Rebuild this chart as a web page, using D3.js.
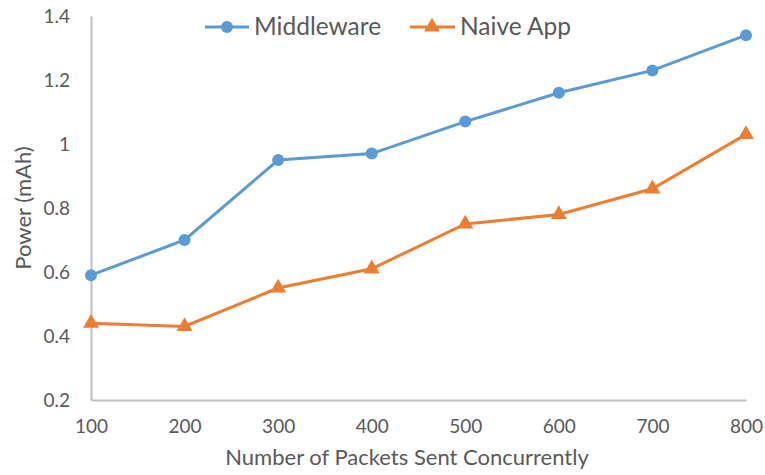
<!DOCTYPE html>
<html><head><meta charset="utf-8">
<script src="https://cdn.jsdelivr.net/npm/d3@7"></script>
<style>body{margin:0;background:#fff}svg{display:block}text{font-family:Lato,"Open Sans",sans-serif;fill:#595959}</style>
</head><body><svg id="c" width="765" height="475"></svg>
<script>
const categories = [100, 200, 300, 400, 500, 600, 700, 800];
const middleware = [0.59, 0.70, 0.95, 0.97, 1.07, 1.16, 1.23, 1.34];
const naiveApp = [0.44, 0.43, 0.55, 0.61, 0.75, 0.78, 0.86, 1.03];
const yTicks = [0.2, 0.4, 0.6, 0.8, 1, 1.2, 1.4];
const seriesNames = ["Middleware", "Naive App"];

const svg = d3.select("#c");
const x = d3.scaleLinear().domain([100, 800]).range([91, 746]);
const y = d3.scaleLinear().domain([0.2, 1.4]).range([400, 16]);
const blue = "#5B9BD5", orange = "#ED7D31", axisC = "#BFBFBF";

// axes
const ya = svg.append("g").attr("transform", "translate(91,0)")
  .call(d3.axisLeft(y).tickValues(yTicks).tickSize(0).tickPadding(21).tickFormat(d => String(+d.toFixed(1))));
ya.select(".domain").attr("stroke", axisC).attr("stroke-width", 2);
ya.selectAll("text").style("font-size", "19px").attr("fill", "#595959").style("font-family", "Lato");

const xa = svg.append("g").attr("transform", "translate(0,400)")
  .call(d3.axisBottom(x).tickValues(categories).tickSize(0).tickPadding(20).tickFormat(d3.format("d")));
xa.select(".domain").attr("stroke", axisC).attr("stroke-width", 2);
xa.selectAll("text").style("font-size", "19px").attr("fill", "#595959").style("font-family", "Lato");

// titles
svg.append("text").attr("x", 407).attr("y", 465).attr("text-anchor", "middle")
  .style("font-size", "22px").text("Number of Packets Sent Concurrently");
svg.append("text").attr("transform", "translate(31,208) rotate(-90)").attr("text-anchor", "middle")
  .style("font-size", "22px").text("Power (mAh)");

const line = d3.line().x((d, i) => x(categories[i])).y(d => y(d));
svg.append("path").datum(middleware).attr("d", line).attr("fill", "none").attr("stroke", blue).attr("stroke-width", 3);
svg.append("path").datum(naiveApp).attr("d", line).attr("fill", "none").attr("stroke", orange).attr("stroke-width", 3);

svg.selectAll(".mc").data(middleware).join("circle")
  .attr("cx", (d, i) => x(categories[i])).attr("cy", d => y(d)).attr("r", 6).attr("fill", blue);
const tri = d3.symbol().type(d3.symbolTriangle).size(110);
svg.selectAll(".nt").data(naiveApp).join("path")
  .attr("transform", (d, i) => `translate(${x(categories[i])},${y(d)})`).attr("d", tri).attr("fill", orange);

// legend
const lg = svg.append("g");
lg.append("line").attr("x1", 205).attr("x2", 249).attr("y1", 27).attr("y2", 27).attr("stroke", blue).attr("stroke-width", 3);
lg.append("circle").attr("cx", 227).attr("cy", 27).attr("r", 6).attr("fill", blue);
lg.append("text").attr("x", 254).attr("y", 35).style("font-size", "24.5px").text(seriesNames[0]);
lg.append("line").attr("x1", 410).attr("x2", 455).attr("y1", 27).attr("y2", 27).attr("stroke", orange).attr("stroke-width", 3);
lg.append("path").attr("transform", "translate(432,27)").attr("d", tri).attr("fill", orange);
lg.append("text").attr("x", 460).attr("y", 35).style("font-size", "24.5px").text(seriesNames[1]);
</script></body></html>
